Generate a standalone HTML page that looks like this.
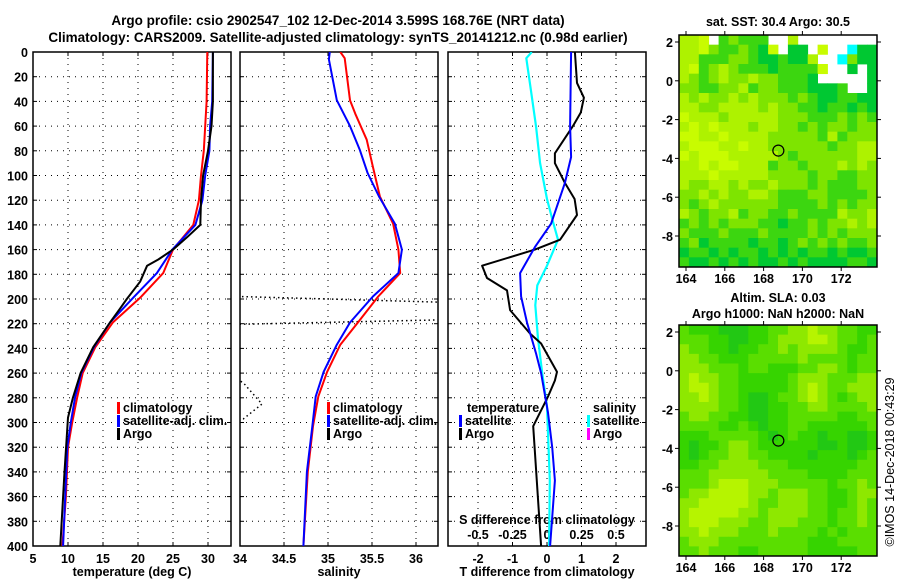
<!DOCTYPE html>
<html><head><meta charset="utf-8"><style>
body{margin:0;background:#fff;}
svg{display:block;font-family:"Liberation Sans",sans-serif;font-weight:bold;}
</style></head><body>
<svg id="chart" width="900" height="580" viewBox="0 0 900 580">
<defs>
<clipPath id="c1"><rect x="33" y="52" width="198" height="494"/></clipPath>
<clipPath id="c2"><rect x="240" y="52" width="198" height="494"/></clipPath>
<clipPath id="c3"><rect x="448" y="52" width="198" height="494"/></clipPath>
</defs>
<text x="338" y="25" text-anchor="middle" font-size="13.5">Argo profile: csio 2902547_102 12-Dec-2014 3.599S 168.76E (NRT data)</text>
<text x="338" y="42" text-anchor="middle" font-size="13.5">Climatology: CARS2009. Satellite-adjusted climatology: synTS_20141212.nc (0.98d earlier)</text>
<g id="g"></g>
</svg>
<script>
// ---- data ----
const depthTicks=[0,20,40,60,80,100,120,140,160,180,200,220,240,260,280,300,320,340,360,380,400];
const tempTicks=[5,10,15,20,25,30];
const salTicks=[34,34.5,35,35.5,36];
const tdiffTicks=[-2,-1,0,1,2];
const sdiffTicks=[-0.5,-0.25,0,0.25,0.5];
const sdiffLabels=["-0.5","-0.25","0","0.25","0.5"];
const climTdepth=[0,40,80,100,120,140,160,179,199,219,239,260,280,300,320,360,400];
const climT=[29.9,29.8,29.4,29.0,28.7,27.9,25.0,23.6,20.3,16.4,13.9,12.1,11.3,10.6,10.0,9.7,9.2];
const satTdepth=[0,40,60,80,100,120,140,160,179,199,219,239,260,280,300,320,400];
const satT=[30.7,30.6,30.3,30.2,29.6,29.2,28.2,24.9,22.7,19.3,16.0,13.7,11.9,11.0,10.4,9.9,9.3];
const argoTdepth=[0,40,60,80,100,120,140,150,160,168,173,186,200,208,219,239,260,280,296,340,400];
const argoT=[30.7,30.7,30.5,30.0,29.3,29.0,28.9,27.0,25.0,22.9,21.3,20.3,18.4,17.4,16.0,13.6,11.8,10.7,10.0,9.5,8.9];
const climSdepth=[0,5,39,50,71,93,117,139,160,179,198,219,237,259,279,303,340,400];
const climS=[35.14,35.19,35.25,35.31,35.44,35.51,35.59,35.74,35.80,35.82,35.57,35.34,35.14,34.99,34.89,34.83,34.77,34.72];
const satSdepth=[0,6,39,60,79,98,117,139,160,179,198,219,237,259,279,304,340,400];
const satS=[35.02,35.01,35.10,35.25,35.36,35.45,35.58,35.76,35.84,35.80,35.51,35.25,35.10,34.95,34.86,34.82,34.76,34.72];
const argoSdepth=[196,205,215,222,268,285,297,300];
const argoS=[33.0,37.5,37.5,33.0,34.04,34.25,34.04,33.0];
const dArgoTdepth=[0,25,37,49,60,82,90,106,119,132,152,160,173,183,193,209,228,236,259,266,279,303,400];
const dArgoT=[0.81,0.87,1.07,0.98,0.75,0.23,0.23,0.52,0.8,0.87,0.38,-0.35,-1.88,-1.74,-1.16,-1.07,-0.49,-0.17,0.29,0.23,0.03,-0.4,-0.17];
const dSatTdepth=[0,60,85,106,139,158,179,198,219,244,260,292,320,347,400];
const dSatT=[0.7,0.67,0.7,0.52,0.12,-0.35,-0.78,-0.75,-0.58,-0.32,-0.17,0.03,0.15,0.23,0.09];
const dSatSdepth=[0,5,28,60,90,119,136,152,173,189,205,232,260,287,347,400];
const dSatS=[-0.11,-0.15,-0.12,-0.08,-0.05,0,0.04,0.08,0.0,-0.07,-0.085,-0.065,-0.035,0,0.02,0.015];
const latTicks=[2,0,-2,-4,-6,-8];
const lonTicks=[164,166,168,170,172];
const argoLon=168.76, argoLat=-3.599;
const sstRows=["110w32333ww1wwwwwwww","1102332340w44w0wwc44","11333223443441wwc244","103212333433330ww4w4","12321221223334wwwww4","22332213223334443ww4","12122121222323443344","11221111212233433434","01112111112223332323","10101112112232322322","00110111122222313222","10001101122222232211","01000111112322222211","11010011132232221212","11101111122223223322","12211212212223233322","22121221123332233332","23212222223333232322","12322132233233331221","32323222334332322121","23332333233332323222","32433334334323232332","43343433434343343443","34434343443434444334"];
const slaRows=["cdddeeeddccbbabbccdd","cccddeeddcbbbaabccdc","bccddeddccbcbbbbcddc","bbccdddcccccbccccdcc","bbbcccdccdddccbbcdcc","babbccdddddcbbbcccbb","baabccdddddcbabccbbb","bbabccdeedccbabcdcbb","bbbbccdeeddccbbccccb","cbbccddeeddcccccddcc","ccccddcdeddccddddddc","dddcccccdedcddeddeed","deddcbbcddddddeedeed","dedccbbccddddedddedc","ddccbbbbcccdddddddcc","cccbbbbbbccccddddccc","cccbaaabbbcccccdccbc","cbbaaaabbcbbbccddcbb","bbaaaaabccbbbccddcbc","baaaaabbcbbbbccdccbc","baaabbbccbbbcccdccbc","bbabbbcccbccccdcdccc","cbbbcccccccccdddcccc","ccbcccddcccccdddddcc"];
// ---- helpers ----
const NS="http://www.w3.org/2000/svg";const G=document.getElementById('g');
function mk(tag,at,parent){const e=document.createElementNS(NS,tag);for(const k in at)e.setAttribute(k,at[k]);(parent||G).appendChild(e);return e;}
const Y0=52,Y1=546;
const yD=d=>Y0+d*(Y1-Y0)/400;
const xT=t=>33+(t-5)*7;
const xS=s=>240+(s-34)*88;
const xTd=t=>547+t*34.5;
const xSd=s=>547+s*138;
function txt(x,y,s,anchor,name,size,fill){const t=mk('text',{x:x,y:y,'text-anchor':anchor||'middle','font-size':size||12.5,fill:fill||'#000'});t.textContent=s;

return t;}
function panel(x0,name,xticksPx){
 const r=mk('rect',{x:x0,y:Y0,width:198,height:494,fill:'none',stroke:'#000','stroke-width':1.5});
 
 
 depthTicks.forEach(d=>{if(d>0&&d<400){const l=mk('line',{x1:x0,x2:x0+198,y1:yD(d),y2:yD(d),stroke:'#000','stroke-dasharray':'1 5'});
 
 
 mk('line',{x1:x0,x2:x0+4,y1:yD(d),y2:yD(d),stroke:'#000'});mk('line',{x1:x0+194,x2:x0+198,y1:yD(d),y2:yD(d),stroke:'#000'});}});
 xticksPx.forEach(x=>{if(x>x0+1&&x<x0+197){const l=mk('line',{x1:x,x2:x,y1:Y0,y2:Y1,stroke:'#000','stroke-dasharray':'1 5'});
 
 
 mk('line',{x1:x,x2:x,y1:Y1-4,y2:Y1,stroke:'#000'});mk('line',{x1:x,x2:x,y1:Y0,y2:Y0+4,stroke:'#000'});}});
}
function line(ds,vs,fx,color,w,clip,name,dash){const pts=ds.map((d,i)=>fx(vs[i]).toFixed(1)+','+yD(d).toFixed(1)).join(' ');
 const p=mk('polyline',{points:pts,fill:'none',stroke:color,'stroke-width':w,'clip-path':'url(#'+clip+')','stroke-linejoin':'round'});
 if(dash)p.setAttribute('stroke-dasharray',dash);
 
 }
function legend(x,y,color,label,name){const b=mk('rect',{x:x,y:y-10,width:3,height:12,fill:color});
 
 
 txt(x+6,y,label,'start',name,12.5);}
// ---- panel 1 temperature ----
panel(33,'temperature-panel',tempTicks.map(xT));
depthTicks.forEach(d=>txt(28,yD(d)+5,String(d),'end','depth-tick-label'));
tempTicks.forEach(t=>txt(xT(t),563,String(t),'middle','temperature-tick-label'));
txt(132,576,'temperature (deg C)','middle','temperature-axis-title');
line(climTdepth,climT,xT,'#ff0000',2,'c1','temperature-climatology-line');
line(satTdepth,satT,xT,'#0000ff',2,'c1','temperature-satellite-line');
line(argoTdepth,argoT,xT,'#000',2,'c1','temperature-argo-line');
legend(117,412,'#ff0000','climatology','legend-climatology');
legend(117,425,'#0000ff','satellite-adj. clim.','legend-satellite');
legend(117,438,'#000','Argo','legend-argo');
// ---- panel 2 salinity ----
panel(240,'salinity-panel',salTicks.map(xS));
salTicks.forEach(s=>txt(xS(s),563,String(s),'middle','salinity-tick-label'));
txt(339,576,'salinity','middle','salinity-axis-title');
line(argoSdepth,argoS,xS,'#000',1.5,'c2','salinity-argo-line','1.5 3');
line(climSdepth,climS,xS,'#ff0000',2,'c2','salinity-climatology-line');
line(satSdepth,satS,xS,'#0000ff',2,'c2','salinity-satellite-line');
legend(327,412,'#ff0000','climatology','legend-sal-climatology');
legend(327,425,'#0000ff','satellite-adj. clim.','legend-sal-satellite');
legend(327,438,'#000','Argo','legend-sal-argo');
// ---- panel 3 differences ----
panel(448,'difference-panel',tdiffTicks.map(xTd));
tdiffTicks.forEach(t=>txt(xTd(t),563,String(t),'middle','tdiff-tick-label'));
txt(547,576,'T difference from climatology','middle','tdiff-axis-title');
sdiffTicks.forEach((s,i)=>txt(xSd(s),539,sdiffLabels[i],'middle','sdiff-tick-label'));
txt(547,524,'S difference from climatology','middle','sdiff-axis-title');
line(dSatSdepth,dSatS,xSd,'#00ffff',2.2,'c3','sdiff-satellite-line');
line(dArgoTdepth,dArgoT,xTd,'#000',2,'c3','tdiff-argo-line');
line(dSatTdepth,dSatT,xTd,'#0000ff',2,'c3','tdiff-satellite-line');
txt(467,412,'temperature','start','legend-temperature-heading',12.5);
legend(459,425,'#0000ff','satellite','legend-tdiff-satellite');
legend(459,438,'#000','Argo','legend-tdiff-argo');
txt(593,412,'salinity','start','legend-salinity-heading',12.5);
legend(587,425,'#00ffff','satellite','legend-sdiff-satellite');
legend(587,438,'#ff00ff','Argo','legend-sdiff-argo');
// ---- maps ----
const PX=19.4;
function map(top,lat2y,rows,cols,name){
 const x0=679,x1=877,y1=top+(name==='sst-map'?232:231);
 const lonX=l=>686+(l-164)*PX, latY=l=>lat2y+(2-l)*PX;
 const grp=mk('g',{});
 const cw=(x1-x0)/20,ch=(y1-top)/24;
 rows.forEach((row,r)=>{for(let c=0;c<20;c++){const k=row.charAt(c)||'c';const col=cols[k];if(!col)continue;
  const cell=mk('rect',{x:(x0+c*cw).toFixed(2),y:(top+r*ch).toFixed(2),width:(cw+0.4).toFixed(2),height:(ch+0.4).toFixed(2),fill:col},grp);
  
  }});
 const fr=mk('rect',{x:x0,y:top,width:x1-x0,height:y1-top,fill:'none',stroke:'#000','stroke-width':1.5});
 
 latTicks.forEach(l=>{const y=latY(l);mk('line',{x1:x0-4,x2:x0,y1:y,y2:y,stroke:'#000'});mk('line',{x1:x1,x2:x1+4,y1:y,y2:y,stroke:'#000'});
  txt(673,y+5,String(l),'end',name+'-lat-label');});
 lonTicks.forEach(l=>{const x=lonX(l);mk('line',{x1:x,x2:x,y1:y1,y2:y1+4,stroke:'#000'});mk('line',{x1:x,x2:x,y1:top-4,y2:top,stroke:'#000'});
  txt(x,y1+16,String(l),'middle',name+'-lon-label');});
 const c=mk('circle',{cx:lonX(argoLon),cy:latY(argoLat),r:5.5,fill:'none',stroke:'#000','stroke-width':1.2});
 
}
map(35,42,sstRows,{'0':'#c8fc00','1':'#aef200','2':'#7ee400','3':'#3cd610','4':'#00c832','c':'#00ffff'},'sst-map');
map(325,332,slaRows,{a:'#b6f400',b:'#8ee800',c:'#5ade00',d:'#36d400',e:'#22c814'},'sla-map');
txt(778,26,'sat. SST: 30.4 Argo: 30.5','middle','sst-map-title');
txt(778,302,'Altim. SLA: 0.03','middle','sla-map-title');
txt(778,318,'Argo h1000: NaN h2000: NaN','middle','sla-map-subtitle');
const cr=txt(0,0,'©IMOS 14-Dec-2018 00:43:29','middle','copyright-label',12.5);
cr.setAttribute('font-weight','normal');
cr.setAttribute('transform','translate(894,462) rotate(-90)');
</script>
</body></html>
